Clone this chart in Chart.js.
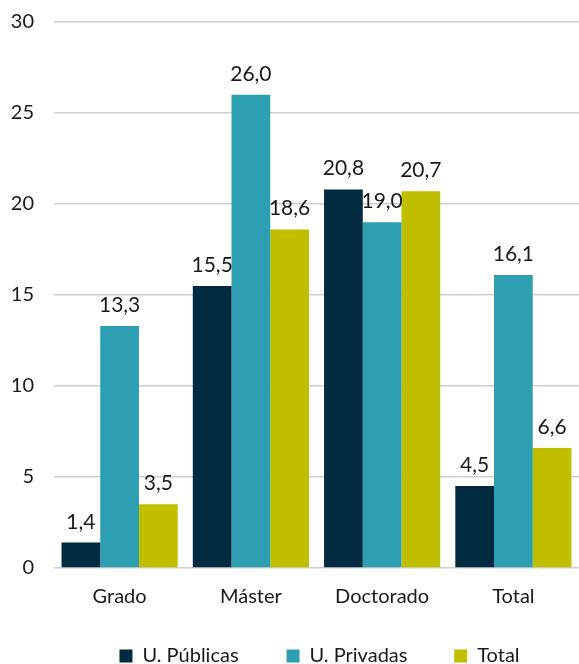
<!DOCTYPE html>
<html>
<head>
<meta charset="utf-8">
<script src="https://cdn.jsdelivr.net/npm/chart.js@4"></script>
<style>
  html, body { margin: 0; padding: 0; background: #fff; }
  #wrap { width: 579px; height: 664px; }
</style>
</head>
<body>
<div id="wrap"><canvas id="chart" width="579" height="664"></canvas></div>
<script>
const categories = ['Grado', 'Máster', 'Doctorado', 'Total'];
const publicas = [1.4, 15.5, 20.8, 4.5];
const privadas = [13.3, 26.0, 19.0, 16.1];
const total = [3.5, 18.6, 20.7, 6.6];
const yTicks = [0, 5, 10, 15, 20, 25, 30];

const FONT = 'Lato, sans-serif';
const FONT_SIZE = 20;
const LEGEND_PAD = 8;
const LEGEND_SLOT = 136;   // ancho de texto reservado en la leyenda
const LEGEND_SHIFT = { x: 25, y: 12 };

// rellena el texto de la leyenda con espacios finos para separar los elementos
const meas = document.createElement('canvas').getContext('2d');
meas.font = FONT_SIZE + 'px ' + FONT;
function padTo(text, w) {
  let t = text;
  while (meas.measureText(t).width < w) t += '\u200A';
  return t;
}

// etiquetas de valor encima de cada barra + ajuste de la leyenda
const valueLabels = {
  id: 'valueLabels',
  afterLayout(chart) {
    const l = chart.legend;
    l.left += LEGEND_SHIFT.x; l.right += LEGEND_SHIFT.x;
    l.top += LEGEND_SHIFT.y; l.bottom += LEGEND_SHIFT.y;
  },
  afterDatasetsDraw(chart) {
    const ctx = chart.ctx;
    ctx.save();
    ctx.font = '21px ' + FONT;
    ctx.fillStyle = '#1a1a1a';
    ctx.textAlign = 'center';
    ctx.textBaseline = 'alphabetic';
    chart.data.datasets.forEach((ds, i) => {
      chart.getDatasetMeta(i).data.forEach((bar, j) => {
        const txt = ds.data[j].toFixed(1).replace('.', ',');
        ctx.fillText(txt, bar.x, bar.y - 14);
      });
    });
    ctx.restore();
  }
};

new Chart(document.getElementById('chart'), {
  type: 'bar',
  data: {
    labels: categories,
    datasets: [
      { label: 'U. Públicas', data: publicas, backgroundColor: '#022b41' },
      { label: 'U. Privadas', data: privadas, backgroundColor: '#2e9fb0' },
      { label: 'Total', data: total, backgroundColor: '#bfbf00' }
    ]
  },
  options: {
    responsive: false,
    animation: false,
    layout: { padding: { left: 10, right: 0, top: 22, bottom: 0 } },
    datasets: { bar: { categoryPercentage: 0.885, barPercentage: 1.0 } },
    scales: {
      x: {
        grid: { display: false, drawTicks: false },
        border: { display: false },
        ticks: { color: '#1a1a1a', font: { family: FONT, size: FONT_SIZE }, padding: 17 }
      },
      y: {
        min: 0,
        max: 30,
        afterBuildTicks: axis => { axis.ticks = yTicks.map(v => ({ value: v })); },
        afterFit: axis => { axis.width = 44; axis.paddingTop = 0; },
        grid: { color: '#cfcfcf', lineWidth: 1.5, drawTicks: false },
        border: { display: false },
        ticks: { color: '#1a1a1a', font: { family: FONT, size: FONT_SIZE }, padding: 20 }
      }
    },
    plugins: {
      legend: {
        position: 'bottom',
        labels: {
          boxWidth: 13,
          boxHeight: 13,
          padding: LEGEND_PAD,
          color: '#1a1a1a',
          font: { family: FONT, size: FONT_SIZE },
          generateLabels(chart) {
            const items = Chart.defaults.plugins.legend.labels.generateLabels(chart);
            items.forEach((it, i) => {
              if (i < items.length - 1) it.text = padTo(it.text, LEGEND_SLOT);
            });
            return items;
          }
        }
      },
      tooltip: { enabled: false }
    }
  },
  plugins: [valueLabels]
});
</script>
</body>
</html>
